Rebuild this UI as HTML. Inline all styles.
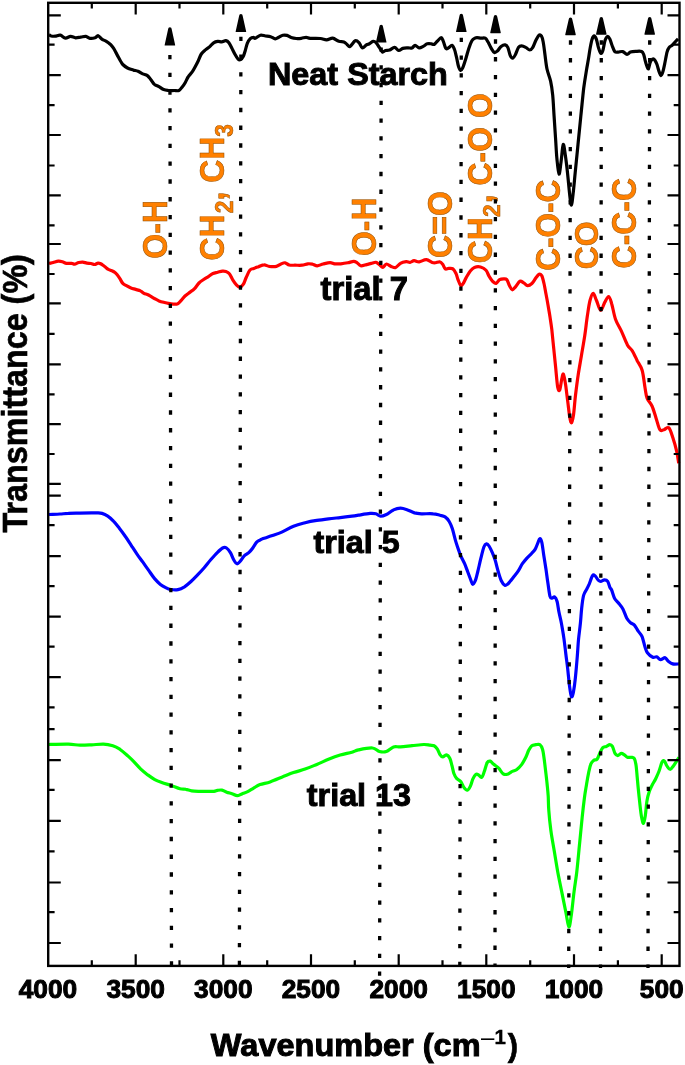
<!DOCTYPE html><html><head><meta charset="utf-8"><style>html,body{margin:0;padding:0;background:#fff;}svg{display:block;}text{font-family:"Liberation Sans",Arial,sans-serif;font-weight:bold;}</style></head><body>
<svg width="685" height="1065" viewBox="0 0 685 1065">
<rect x="0" y="0" width="685" height="1065" fill="#fff"/>
<path d="M49.0 34.7C49.4 34.9 50.1 35.8 51.1 36.0C52.1 36.2 53.7 36.3 55.2 36.2C56.7 36.1 58.6 34.9 60.3 35.2C62.0 35.5 63.7 37.9 65.4 38.1C67.1 38.3 68.8 36.5 70.5 36.4C72.2 36.3 73.9 37.7 75.6 37.8C77.3 37.9 79.1 37.3 80.8 37.1C82.5 36.9 84.4 36.2 85.9 36.4C87.4 36.6 88.4 38.1 89.9 38.3C91.4 38.5 93.7 38.2 95.1 37.8C96.5 37.4 96.9 35.5 98.1 35.7C99.3 36.0 100.8 38.4 102.2 39.3C103.6 40.2 105.0 40.5 106.3 41.3C107.6 42.1 109.0 43.1 110.2 44.2C111.4 45.4 112.4 46.5 113.5 48.2C114.6 49.9 115.8 52.5 117.0 54.6C118.2 56.7 119.5 59.4 120.5 61.0C121.5 62.6 121.6 63.3 122.8 64.5C124.0 65.7 125.7 67.1 127.5 68.0C129.3 68.9 131.7 69.5 133.4 70.1C135.2 70.6 136.4 70.7 138.0 71.3C139.6 71.9 141.1 73.2 142.7 73.9C144.3 74.6 146.0 74.6 147.4 75.6C148.8 76.6 149.7 78.2 150.9 79.7C152.1 81.2 153.1 83.2 154.4 84.4C155.8 85.6 157.4 85.8 159.0 86.7C160.6 87.6 162.1 89.0 163.7 89.6C165.3 90.2 166.7 90.3 168.4 90.5C170.2 90.7 172.4 90.5 174.2 90.5C175.9 90.5 177.5 91.1 178.9 90.5C180.3 89.9 181.3 88.0 182.4 86.7C183.5 85.4 184.4 84.1 185.3 82.5C186.2 80.9 186.9 78.8 188.1 77.0C189.2 75.2 191.0 73.6 192.2 71.9C193.4 70.2 194.2 68.7 195.2 66.8C196.2 64.9 197.3 62.8 198.3 60.7C199.3 58.6 200.1 55.8 201.3 54.0C202.5 52.2 204.0 51.1 205.4 49.9C206.8 48.7 208.1 48.1 209.5 46.9C210.9 45.7 212.2 43.7 213.6 42.8C215.0 41.9 216.3 41.6 217.7 41.4C219.1 41.2 220.4 41.9 221.8 41.8C223.2 41.7 224.7 40.5 225.9 40.7C227.1 40.9 227.9 41.5 228.9 42.8C229.9 44.1 231.0 46.4 232.0 48.4C233.0 50.4 234.1 52.7 235.1 54.5C236.1 56.3 237.2 58.2 238.1 59.1C239.0 60.0 239.8 60.0 240.7 59.6C241.5 59.2 242.4 58.1 243.2 56.6C244.0 55.1 244.6 52.6 245.3 50.4C246.0 48.2 246.5 45.3 247.3 43.3C248.1 41.3 249.3 39.6 250.3 38.6C251.3 37.6 252.5 37.3 253.3 37.3C254.1 37.2 254.1 38.6 255.3 38.3C256.5 37.9 258.7 35.6 260.4 35.2C262.1 34.8 263.8 35.8 265.5 36.0C267.2 36.2 269.0 36.2 270.6 36.7C272.2 37.2 273.8 38.7 275.2 38.8C276.6 38.9 277.5 37.9 278.8 37.3C280.1 36.7 281.5 35.5 282.9 35.2C284.3 34.9 285.6 35.0 287.0 35.4C288.4 35.8 289.6 37.0 291.1 37.5C292.6 38.0 294.5 38.4 296.2 38.5C297.9 38.6 299.6 38.5 301.3 38.3C303.0 38.1 304.6 37.3 306.1 37.3C307.6 37.3 307.8 38.1 310.2 38.3C312.6 38.5 317.7 38.2 320.4 38.5C323.1 38.8 324.6 39.9 326.6 39.8C328.7 39.7 330.7 37.9 332.7 38.1C334.7 38.4 336.9 40.7 338.8 41.3C340.7 41.9 342.5 41.4 343.9 41.9C345.3 42.4 346.0 43.6 347.0 44.4C348.0 45.2 348.6 47.1 350.0 46.5C351.4 45.9 353.7 41.4 355.2 40.8C356.7 40.2 358.0 41.7 359.2 42.9C360.4 44.1 361.1 47.7 362.3 48.0C363.5 48.3 365.3 45.6 366.4 44.9C367.5 44.2 367.9 44.6 369.0 44.0C370.1 43.4 372.0 41.5 373.2 41.3C374.4 41.1 375.2 41.8 376.2 42.8C377.2 43.8 378.3 45.9 379.3 47.4C380.3 48.9 381.4 51.5 382.4 52.0C383.4 52.5 384.2 50.8 385.4 50.5C386.6 50.2 388.0 50.5 389.5 50.0C391.0 49.5 393.1 47.3 394.6 47.4C396.1 47.5 397.3 50.3 398.7 50.5C400.1 50.7 401.3 48.8 402.8 48.4C404.3 48.0 406.4 48.0 407.9 47.9C409.4 47.8 410.8 48.3 412.0 47.9C413.2 47.5 413.9 45.4 415.1 45.4C416.3 45.4 417.9 47.7 419.2 47.9C420.5 48.1 421.8 47.1 423.2 46.4C424.6 45.7 425.9 44.2 427.3 43.8C428.7 43.4 430.3 43.7 431.4 43.8C432.5 43.9 433.1 44.8 434.1 44.4C435.1 44.0 436.0 42.4 437.2 41.3C438.4 40.2 440.2 37.7 441.2 37.7C442.2 37.7 442.5 39.5 443.3 41.3C444.1 43.1 445.0 47.3 445.8 48.4C446.6 49.5 447.4 48.4 448.4 47.9C449.4 47.4 451.0 45.1 452.0 45.4C453.0 45.7 453.7 47.5 454.5 49.5C455.3 51.5 455.9 54.7 456.6 57.6C457.3 60.5 457.9 64.7 458.6 66.8C459.3 68.9 460.0 70.2 460.7 70.4C461.4 70.6 461.8 69.9 462.7 67.9C463.6 66.0 464.8 62.0 465.8 58.7C466.8 55.5 467.8 51.4 468.8 48.4C469.8 45.4 470.9 42.5 471.9 40.8C472.9 39.1 474.1 38.7 475.0 38.2C475.9 37.7 476.0 37.7 477.0 37.7C478.0 37.7 479.7 38.1 481.1 38.2C482.5 38.3 484.0 37.5 485.2 38.2C486.4 38.9 487.2 40.6 488.2 42.3C489.2 44.0 490.3 46.7 491.3 48.4C492.3 50.1 493.4 52.1 494.4 52.5C495.4 52.9 496.3 52.0 497.4 51.0C498.5 50.0 499.8 47.4 501.1 46.4C502.4 45.4 504.1 44.7 505.2 44.9C506.3 45.1 506.9 45.6 507.8 47.4C508.7 49.2 509.5 53.8 510.3 55.6C511.1 57.4 512.0 58.3 512.9 58.1C513.8 57.9 514.5 56.4 515.4 54.6C516.3 52.8 517.5 48.9 518.5 47.4C519.5 45.9 520.4 45.9 521.6 45.9C522.8 45.9 524.4 46.7 525.7 47.4C527.1 48.1 528.5 50.0 529.7 50.0C530.9 50.0 531.8 49.0 532.8 47.4C533.8 45.8 534.9 42.3 535.9 40.3C536.9 38.3 538.0 35.9 538.9 35.2C539.8 34.5 540.8 35.1 541.5 36.2C542.2 37.3 542.6 38.9 543.2 42.0C543.8 45.1 544.4 50.5 545.0 55.0C545.6 59.5 546.1 64.7 547.0 69.0C547.9 73.3 549.6 76.7 550.6 81.1C551.6 85.5 552.1 89.3 552.7 95.2C553.3 101.1 553.6 109.2 554.1 116.3C554.6 123.3 555.0 130.4 555.5 137.5C556.0 144.6 556.3 152.5 556.9 158.6C557.5 164.7 558.3 173.6 559.0 174.1C559.7 174.6 560.4 166.3 561.1 161.4C561.8 156.5 562.5 145.4 563.2 144.5C563.9 143.6 564.7 151.1 565.4 155.8C566.1 160.5 566.8 166.4 567.5 172.7C568.2 179.0 569.0 188.4 569.6 193.8C570.2 199.2 570.7 205.1 571.3 205.1C571.9 205.1 572.5 199.2 573.1 193.8C573.8 188.4 574.4 180.9 575.2 172.7C576.0 164.5 577.1 153.9 578.0 144.5C578.9 135.1 579.8 125.7 580.8 116.3C581.8 106.9 582.8 95.9 583.7 88.2C584.7 80.5 585.7 74.9 586.5 70.0C587.3 65.1 587.9 62.4 588.5 58.6C589.1 54.8 589.7 50.5 590.3 47.3C590.9 44.1 591.4 41.3 592.0 39.4C592.6 37.5 593.5 35.9 594.2 35.9C594.9 35.9 595.7 37.4 596.4 39.4C597.1 41.4 597.9 45.8 598.6 48.1C599.3 50.4 600.1 53.1 600.8 53.4C601.5 53.7 602.3 52.1 603.0 49.9C603.7 47.7 604.3 42.6 605.1 40.3C605.9 38.0 607.0 36.4 607.8 36.3C608.6 36.1 609.3 37.9 610.0 39.4C610.7 40.9 611.3 43.5 612.1 45.5C612.9 47.5 613.8 50.5 614.8 51.6C615.8 52.7 617.0 52.1 618.3 52.1C619.6 52.1 621.2 51.2 622.7 51.6C624.2 52.0 625.7 54.2 627.0 54.3C628.3 54.4 629.0 52.6 630.5 52.1C632.0 51.6 633.9 51.5 635.8 51.4C637.6 51.3 640.3 50.9 641.6 51.5C642.9 52.1 643.2 53.3 643.8 54.8C644.4 56.3 644.7 58.8 645.2 60.7C645.7 62.7 646.5 65.2 647.0 66.5C647.5 67.8 648.0 69.4 648.5 68.7C649.0 68.0 649.6 63.7 650.3 62.1C651.0 60.5 651.8 59.6 652.5 59.2C653.2 58.8 654.0 59.0 654.7 59.9C655.4 60.8 656.2 62.3 656.9 64.3C657.6 66.2 658.4 69.7 659.1 71.6C659.8 73.5 660.3 75.5 660.9 75.6C661.5 75.7 662.0 74.4 662.7 72.3C663.4 70.2 664.2 66.2 664.9 62.8C665.6 59.4 666.4 54.5 667.1 51.9C667.8 49.3 668.4 48.3 669.3 47.2C670.1 46.1 671.2 46.2 672.2 45.3C673.2 44.4 674.1 43.1 675.1 42.0C676.1 40.9 677.6 39.3 678.1 38.8" fill="none" stroke="#000" stroke-width="3.2" stroke-linejoin="round" stroke-linecap="butt"/>
<path d="M49.0 263.5C49.7 263.3 51.7 262.9 53.2 262.5C54.8 262.1 56.8 261.3 58.3 261.2C59.8 261.1 61.0 261.4 62.4 261.8C63.8 262.2 65.0 263.1 66.5 263.3C68.0 263.6 70.2 263.2 71.6 263.3C72.9 263.4 73.4 264.2 74.6 264.1C75.8 264.0 77.3 262.8 78.7 262.5C80.1 262.2 81.4 262.0 82.8 262.1C84.2 262.2 85.5 262.9 86.9 263.1C88.3 263.3 89.7 263.3 91.0 263.5C92.3 263.7 93.4 264.6 94.6 264.5C95.8 264.4 97.1 263.2 98.1 263.1C99.1 263.0 99.7 263.3 100.7 263.8C101.7 264.3 103.0 265.4 104.3 266.3C105.6 267.2 107.1 268.6 108.4 269.4C109.8 270.2 111.3 270.5 112.4 271.0C113.5 271.5 114.2 271.9 115.0 272.5C115.8 273.1 116.2 273.6 117.0 274.6C117.8 275.6 118.9 277.2 119.9 278.7C120.9 280.2 121.7 282.2 122.8 283.4C123.9 284.6 125.0 284.9 126.4 285.7C127.8 286.5 129.4 287.4 131.0 288.0C132.6 288.6 134.1 288.9 135.7 289.4C137.3 289.9 139.0 290.2 140.4 290.9C141.8 291.5 142.6 292.6 143.9 293.3C145.2 294.0 146.8 294.1 148.5 295.0C150.2 295.9 152.7 297.5 154.4 298.5C156.2 299.5 157.4 300.3 159.0 300.9C160.6 301.5 162.1 301.9 163.7 302.3C165.3 302.7 166.8 303.1 168.4 303.4C170.0 303.7 171.6 304.0 173.1 304.1C174.6 304.2 176.3 304.4 177.7 303.8C179.0 303.2 180.0 301.6 181.2 300.3C182.4 299.0 183.6 297.3 185.0 296.0C186.4 294.7 188.1 293.6 189.7 292.4C191.2 291.2 192.8 290.5 194.3 288.9C195.9 287.3 197.4 284.6 199.0 283.0C200.6 281.4 202.1 280.6 203.7 279.5C205.3 278.4 206.8 277.6 208.4 276.6C210.0 275.6 211.4 274.2 213.0 273.5C214.6 272.8 216.1 272.7 217.7 272.3C219.3 271.9 221.0 271.2 222.4 271.1C223.8 271.0 224.7 271.0 225.9 271.4C227.1 271.8 228.2 272.2 229.4 273.7C230.6 275.1 231.7 278.2 232.9 280.1C234.1 282.0 235.2 283.6 236.4 284.8C237.6 286.0 238.7 287.2 239.9 287.1C241.1 287.0 242.3 285.9 243.4 284.2C244.5 282.5 245.2 279.5 246.3 277.2C247.4 274.9 248.5 271.7 249.8 270.2C251.1 268.7 252.4 269.0 253.9 268.4C255.4 267.8 256.9 267.3 258.6 266.7C260.3 266.1 262.3 264.9 264.1 264.9C265.9 264.8 267.2 266.1 269.3 266.4C271.4 266.6 274.4 266.8 276.4 266.4C278.3 266.0 279.6 264.6 281.0 264.0C282.4 263.4 283.7 262.6 285.1 262.8C286.5 263.0 287.6 264.6 289.2 265.0C290.8 265.4 292.9 265.2 295.0 265.2C297.1 265.2 299.9 265.4 302.0 265.2C304.1 265.0 306.1 264.0 307.9 263.8C309.7 263.6 311.1 263.9 312.6 264.2C314.2 264.5 315.4 265.8 317.2 265.8C318.9 265.8 321.0 264.5 323.1 264.0C325.2 263.5 328.2 262.6 330.1 262.6C332.0 262.6 332.9 263.6 334.7 263.8C336.5 264.0 338.6 264.0 340.8 263.8C343.0 263.6 345.7 263.2 347.8 262.8C349.9 262.4 352.1 261.4 353.7 261.4C355.3 261.4 356.0 262.1 357.2 262.8C358.4 263.5 359.1 265.5 360.7 265.8C362.2 266.1 364.8 265.0 366.5 264.6C368.2 264.2 369.6 263.8 371.2 263.4C372.8 263.0 374.5 262.1 375.9 262.3C377.3 262.5 378.2 263.8 379.4 264.6C380.6 265.4 381.7 267.4 382.9 267.3C384.1 267.2 385.0 264.1 386.4 264.0C387.8 263.9 389.6 265.8 391.1 266.4C392.7 267.0 394.1 268.0 395.7 267.5C397.2 267.0 398.6 264.4 400.4 263.4C402.1 262.4 404.6 261.9 406.2 261.7C407.8 261.5 408.7 262.5 410.0 262.3C411.3 262.1 412.6 260.8 414.1 260.7C415.6 260.6 417.1 262.0 419.2 261.8C421.2 261.6 424.0 259.5 426.4 259.7C428.8 259.9 431.3 262.4 433.5 262.8C435.7 263.2 438.1 261.6 439.6 261.8C441.1 262.1 441.8 263.1 442.7 264.3C443.6 265.5 444.3 268.2 445.3 268.9C446.3 269.6 447.5 268.4 448.8 268.4C450.1 268.4 451.7 268.0 452.9 268.9C454.1 269.8 455.1 271.7 456.0 273.5C456.9 275.3 457.2 277.6 458.0 279.6C458.8 281.6 459.8 284.6 460.6 285.3C461.5 286.0 462.2 285.0 463.1 283.7C464.0 282.4 465.0 279.7 466.2 277.6C467.4 275.5 468.9 272.6 470.3 270.9C471.7 269.2 472.7 268.0 474.4 267.4C476.1 266.8 478.6 266.5 480.5 267.0C482.4 267.5 484.6 268.7 486.0 270.3C487.4 271.9 488.0 274.5 489.2 276.4C490.4 278.3 491.9 280.7 493.1 281.8C494.3 282.9 495.3 283.6 496.4 283.2C497.5 282.8 498.4 280.3 499.6 279.6C500.8 278.9 502.3 278.9 503.5 278.9C504.7 278.9 505.8 278.5 506.8 279.6C507.8 280.7 508.6 284.0 509.5 285.7C510.4 287.4 511.2 289.6 512.2 289.8C513.2 290.0 514.2 288.2 515.5 286.8C516.8 285.4 518.5 282.0 519.9 281.3C521.3 280.6 522.4 282.2 523.7 282.9C525.0 283.6 526.2 285.6 527.6 285.7C529.0 285.8 530.5 284.8 531.9 283.5C533.3 282.2 534.6 279.6 535.8 278.0C537.0 276.4 538.1 274.6 539.1 274.2C540.1 273.8 541.0 274.2 541.8 275.8C542.6 277.4 543.3 280.5 544.0 283.5C544.7 286.5 545.3 290.4 546.0 294.0C546.7 297.6 547.4 301.3 548.0 305.0C548.6 308.7 549.3 312.2 549.9 316.3C550.5 320.4 551.1 323.9 551.8 329.4C552.4 334.9 553.1 342.6 553.8 349.2C554.5 355.8 555.1 362.5 555.8 368.9C556.4 375.2 557.1 383.8 557.7 387.3C558.4 390.8 559.0 391.2 559.7 389.9C560.4 388.6 561.1 382.0 561.7 379.4C562.3 376.8 562.8 373.2 563.4 374.1C564.0 375.0 564.9 380.3 565.6 384.7C566.3 389.1 566.9 395.1 567.6 400.4C568.3 405.6 569.0 412.5 569.6 416.2C570.2 419.9 570.9 423.0 571.5 422.8C572.1 422.6 572.8 419.5 573.5 414.9C574.2 410.3 574.7 401.8 575.5 395.2C576.3 388.6 577.1 382.0 578.1 375.4C579.1 368.8 580.3 362.3 581.4 355.7C582.5 349.1 583.7 342.6 584.7 336.0C585.7 329.4 586.4 322.2 587.3 316.3C588.2 310.4 589.0 304.3 590.0 300.5C591.0 296.7 592.1 293.3 593.2 293.3C594.3 293.3 595.2 297.7 596.5 300.5C597.8 303.3 599.3 310.0 600.7 310.3C602.1 310.6 603.4 304.7 604.7 302.4C606.0 300.1 607.5 296.3 608.6 296.5C609.8 296.7 610.5 299.6 611.6 303.4C612.8 307.2 613.9 314.6 615.5 319.2C617.1 323.8 619.4 326.8 621.4 331.1C623.4 335.4 625.6 341.6 627.4 344.9C629.2 348.2 630.7 348.2 632.3 350.8C633.9 353.4 635.6 357.4 637.2 360.7C638.9 364.0 640.9 365.9 642.2 370.5C643.5 375.1 644.3 383.7 645.1 388.3C645.9 392.9 646.0 395.2 647.1 398.2C648.2 401.1 650.5 402.7 652.0 406.0C653.5 409.3 654.7 413.9 656.0 417.9C657.3 421.8 658.6 427.7 659.9 429.7C661.2 431.7 662.4 430.0 663.9 429.7C665.4 429.4 667.3 426.5 668.8 427.8C670.3 429.1 671.5 433.7 672.8 437.6C674.1 441.5 675.7 447.1 676.7 451.4C677.7 455.7 678.4 461.3 678.7 463.3" fill="none" stroke="#f00" stroke-width="3.2" stroke-linejoin="round" stroke-linecap="butt"/>
<path d="M49.0 514.5C50.8 514.4 56.8 514.2 60.0 514.0C63.2 513.8 65.1 513.5 68.4 513.4C71.7 513.2 76.1 513.2 80.0 513.1C83.9 513.0 88.9 512.9 91.7 512.9C94.5 512.9 95.3 512.8 97.0 512.9C98.7 513.0 100.2 512.9 102.0 513.4C103.8 513.9 105.8 514.8 107.8 516.1C109.8 517.4 111.8 519.4 113.7 521.4C115.7 523.4 117.5 525.9 119.5 528.4C121.5 530.9 123.5 533.7 125.4 536.5C127.4 539.3 129.3 542.4 131.2 545.3C133.1 548.2 135.1 551.3 137.0 554.1C138.9 556.9 141.0 559.5 142.9 562.2C144.8 564.9 146.8 567.7 148.7 570.4C150.6 573.1 152.6 576.3 154.6 578.6C156.6 580.9 158.5 582.9 160.4 584.4C162.3 585.9 164.4 587.0 166.2 587.9C167.9 588.8 168.9 589.2 170.9 589.5C172.9 589.8 175.6 590.1 177.9 589.6C180.2 589.1 182.3 588.1 184.5 586.8C186.7 585.4 188.8 583.5 191.0 581.5C193.2 579.5 195.4 577.2 197.6 574.9C199.8 572.6 202.0 570.2 204.2 567.7C206.4 565.2 208.5 562.3 210.7 559.8C212.9 557.3 215.3 554.6 217.3 552.6C219.3 550.6 221.1 548.8 222.6 548.0C224.1 547.2 225.2 547.2 226.5 548.0C227.8 548.8 229.2 550.6 230.4 552.6C231.6 554.6 232.6 557.9 233.7 559.8C234.8 561.7 235.9 563.6 237.0 563.8C238.1 564.0 239.1 562.4 240.3 561.1C241.5 559.8 242.8 557.3 244.2 555.9C245.6 554.5 247.4 553.9 248.8 552.6C250.2 551.3 251.5 549.8 252.8 548.0C254.1 546.2 255.5 543.4 256.7 542.1C257.9 540.8 258.9 540.7 260.0 540.1C261.1 539.5 261.0 539.4 263.1 538.6C265.2 537.9 269.3 536.7 272.4 535.6C275.5 534.5 278.3 533.7 281.8 532.1C285.3 530.5 289.6 527.8 293.5 526.2C297.4 524.6 301.2 523.7 305.1 522.7C309.0 521.7 312.9 521.0 316.8 520.4C320.7 519.8 324.6 519.3 328.5 518.8C332.4 518.3 336.3 518.0 340.2 517.6C344.1 517.2 348.9 516.6 351.9 516.2C354.9 515.8 355.4 515.7 358.4 515.2C361.4 514.7 367.2 513.6 370.1 513.4C373.0 513.2 374.1 513.3 375.9 513.8C377.6 514.3 378.9 516.1 380.6 516.2C382.4 516.3 384.2 515.5 386.4 514.5C388.5 513.5 391.1 510.9 393.5 509.9C395.9 508.8 398.2 508.2 400.5 508.2C402.8 508.2 405.2 509.1 407.5 509.9C409.8 510.7 412.2 512.2 414.5 512.9C416.8 513.5 418.4 513.6 421.5 513.8C424.6 513.9 430.1 513.5 433.2 513.8C436.3 514.0 438.0 514.8 440.0 515.3C442.0 515.8 443.6 515.9 445.1 516.9C446.6 517.9 448.0 519.5 449.2 521.5C450.4 523.5 451.3 525.5 452.3 528.6C453.3 531.7 454.4 536.7 455.3 539.9C456.2 543.1 457.0 545.3 457.9 548.0C458.8 550.7 459.8 553.6 460.9 556.2C462.0 558.8 463.4 560.9 464.5 563.4C465.6 565.9 466.6 568.8 467.6 571.5C468.6 574.2 469.9 577.6 470.7 579.7C471.5 581.8 471.9 584.1 472.7 584.3C473.5 584.5 474.4 582.8 475.3 580.7C476.2 578.6 476.9 575.2 477.8 571.5C478.7 567.8 479.9 562.3 480.9 558.2C481.9 554.1 483.0 549.4 483.9 547.0C484.8 544.6 485.6 544.1 486.5 543.9C487.4 543.7 488.1 544.6 489.0 546.0C489.9 547.4 491.1 549.7 492.1 552.1C493.1 554.5 494.2 557.1 495.2 560.3C496.2 563.5 497.2 568.1 498.2 571.5C499.2 574.9 500.2 578.4 501.3 580.7C502.4 583.0 503.8 584.8 504.9 585.3C506.0 585.8 507.1 584.4 508.0 583.8C508.9 583.2 509.1 582.5 510.0 581.5C510.9 580.5 511.8 579.3 513.2 577.5C514.6 575.7 516.8 573.2 518.3 570.9C519.8 568.6 521.0 565.8 522.4 563.7C523.8 561.7 525.0 560.3 526.5 558.6C528.0 556.9 530.2 555.0 531.6 553.5C533.0 552.0 534.1 551.1 535.1 549.4C536.1 547.7 536.9 545.1 537.7 543.3C538.5 541.5 539.0 538.9 539.7 538.7C540.4 538.5 541.1 539.5 541.8 542.3C542.5 545.1 543.1 551.1 543.8 555.5C544.5 559.9 545.2 564.2 545.9 568.8C546.6 573.4 547.2 578.5 547.9 583.1C548.6 587.7 549.3 593.9 550.0 596.4C550.7 598.9 551.2 598.1 552.0 598.2C552.8 598.3 553.8 596.4 554.6 596.9C555.5 597.4 556.4 599.0 557.1 601.5C557.8 604.0 558.2 608.2 558.9 611.8C559.6 615.4 560.6 618.8 561.4 623.2C562.2 627.6 563.2 633.3 563.9 638.4C564.6 643.5 565.2 648.6 565.8 653.7C566.4 658.8 567.1 663.4 567.7 668.9C568.3 674.4 569.0 682.0 569.6 686.6C570.2 691.2 570.9 695.9 571.5 696.8C572.1 697.6 572.9 694.9 573.5 691.7C574.1 688.5 574.8 683.6 575.4 677.7C576.0 671.8 576.8 662.5 577.3 656.2C577.8 649.9 578.0 645.2 578.5 639.7C579.0 634.2 579.9 628.5 580.4 623.2C580.9 617.9 581.2 612.6 581.7 608.0C582.2 603.4 582.8 598.6 583.6 595.4C584.5 592.2 585.8 590.9 586.8 589.0C587.8 587.1 588.3 586.1 589.3 583.9C590.2 581.7 591.5 577.1 592.5 575.7C593.5 574.3 594.0 575.0 595.0 575.7C596.0 576.4 597.2 579.2 598.2 580.1C599.2 581.0 599.7 581.4 600.7 581.4C601.8 581.4 603.3 579.9 604.5 579.9C605.7 579.9 606.8 580.1 607.7 581.4C608.6 582.7 609.4 586.3 610.0 587.7C610.6 589.1 610.9 588.2 611.6 590.0C612.4 591.8 613.4 596.1 614.5 598.2C615.6 600.3 616.9 601.0 618.3 602.8C619.7 604.6 621.5 606.4 622.9 609.0C624.3 611.6 625.5 615.9 626.8 618.2C628.1 620.5 629.3 621.6 630.6 622.8C631.9 623.9 633.1 623.7 634.4 625.1C635.7 626.5 636.9 629.3 638.2 631.2C639.5 633.1 641.0 633.9 642.1 636.6C643.2 639.3 644.2 644.6 645.1 647.3C646.0 650.0 646.1 651.0 647.4 652.7C648.7 654.4 651.3 656.6 652.8 657.3C654.3 658.0 655.3 656.4 656.6 656.8C657.9 657.2 659.1 659.5 660.5 659.6C661.9 659.8 663.8 657.5 665.1 657.7C666.4 658.0 666.8 660.1 668.1 661.1C669.4 662.1 670.9 663.4 672.7 663.9C674.5 664.4 677.9 663.9 678.9 663.9" fill="none" stroke="#00f" stroke-width="3.2" stroke-linejoin="round" stroke-linecap="butt"/>
<path d="M49.0 744.5C52.2 744.4 63.2 744.0 68.4 744.1C73.6 744.2 76.1 745.1 80.0 745.2C83.9 745.3 87.8 745.0 91.7 744.8C95.6 744.6 99.9 744.0 103.4 744.1C106.9 744.2 110.1 744.9 112.8 745.7C115.5 746.6 117.5 747.7 119.8 749.2C122.1 750.8 124.5 752.9 126.8 755.0C129.1 757.1 131.5 759.2 133.8 761.6C136.1 764.0 138.5 766.9 140.8 769.1C143.1 771.3 145.5 773.1 147.8 774.9C150.1 776.6 152.5 778.3 154.8 779.6C157.1 780.9 159.1 781.6 161.8 782.6C164.5 783.6 168.2 784.4 171.2 785.4C174.2 786.4 177.6 788.1 180.0 788.7C182.4 789.4 183.9 788.9 185.8 789.3C187.8 789.6 189.5 790.5 191.7 790.8C193.8 791.1 196.4 791.2 198.7 791.3C201.0 791.4 203.2 791.4 205.7 791.4C208.2 791.4 211.9 791.5 213.9 791.3C215.9 791.1 216.1 790.6 217.4 790.4C218.8 790.2 220.4 789.8 222.0 790.1C223.6 790.4 224.9 791.6 226.7 792.2C228.5 792.8 230.8 793.3 232.6 793.9C234.3 794.5 235.6 795.7 237.2 795.7C238.8 795.7 240.2 794.6 241.9 793.9C243.7 793.2 245.8 792.6 247.7 791.6C249.6 790.6 251.5 789.3 253.6 788.1C255.7 786.9 257.2 785.6 260.0 784.6C262.8 783.6 266.5 783.1 270.1 781.9C273.7 780.7 277.9 778.8 281.8 777.2C285.7 775.7 289.6 774.0 293.5 772.6C297.4 771.2 301.2 770.5 305.1 769.1C309.0 767.7 312.9 766.0 316.8 764.4C320.7 762.8 324.6 760.9 328.5 759.3C332.4 757.7 336.3 756.2 340.2 755.0C344.1 753.8 348.9 753.1 351.9 752.2C354.9 751.4 355.0 750.6 358.4 749.9C361.8 749.2 368.9 747.7 372.4 748.0C375.9 748.3 377.1 750.9 379.4 751.5C381.7 752.1 384.0 752.3 386.4 751.5C388.8 750.7 391.1 747.7 393.5 746.9C395.9 746.1 397.4 747.1 400.5 746.9C403.6 746.7 408.2 746.1 412.1 745.7C416.0 745.3 420.8 744.6 423.8 744.5C426.8 744.4 428.3 745.0 430.0 745.2C431.7 745.4 432.9 745.1 434.1 745.7C435.3 746.3 436.2 747.3 437.2 748.8C438.2 750.3 439.3 753.5 440.2 754.9C441.1 756.3 441.8 757.0 442.8 757.0C443.8 757.0 445.2 754.6 446.4 754.9C447.6 755.1 449.0 756.7 449.9 758.5C450.8 760.3 451.3 763.2 452.0 765.7C452.7 768.2 453.2 771.7 454.0 773.8C454.8 775.9 455.5 777.1 456.6 778.4C457.7 779.7 459.5 780.0 460.7 781.5C461.9 783.0 462.6 785.6 463.7 787.1C464.8 788.6 466.2 790.4 467.3 790.2C468.4 790.0 469.5 788.0 470.4 786.1C471.3 784.2 472.0 780.9 472.9 778.9C473.8 776.9 475.1 775.0 476.0 774.3C476.9 773.6 477.6 774.4 478.5 774.9C479.4 775.4 480.7 777.9 481.6 777.4C482.6 776.9 483.3 774.3 484.2 771.8C485.1 769.3 486.2 764.4 487.2 762.6C488.2 760.8 489.3 760.9 490.3 761.1C491.3 761.4 492.3 763.2 493.4 764.1C494.5 765.0 495.9 765.9 496.9 766.7C497.8 767.5 498.1 767.5 499.1 768.7C500.2 769.9 501.8 772.9 503.2 773.8C504.6 774.7 505.9 774.6 507.3 774.3C508.7 774.0 509.9 772.6 511.4 771.8C512.9 771.0 514.8 770.9 516.5 769.7C518.2 768.5 520.1 766.6 521.6 764.6C523.1 762.6 524.5 759.9 525.7 757.5C526.9 755.1 527.7 752.3 528.7 750.3C529.7 748.3 530.6 746.6 531.8 745.7C533.0 744.8 534.5 744.9 535.9 744.7C537.3 744.5 538.9 743.9 540.0 744.7C541.1 745.5 541.8 747.0 542.5 749.3C543.2 751.6 543.6 754.9 544.1 758.5C544.6 762.1 545.1 766.5 545.6 770.8C546.1 775.0 546.7 779.8 547.1 784.0C547.5 788.2 547.9 791.6 548.2 796.0C548.5 800.4 548.3 804.6 548.8 810.4C549.2 816.2 550.0 824.0 550.9 830.8C551.8 837.6 553.2 844.5 554.3 851.3C555.4 858.1 556.5 864.9 557.7 871.7C559.0 878.5 560.4 885.3 561.8 892.1C563.2 898.9 564.7 906.7 565.9 912.5C567.1 918.3 568.0 926.3 568.9 926.8C569.8 927.3 570.4 921.1 571.3 915.3C572.1 909.5 573.1 899.4 574.0 892.1C574.9 884.8 575.9 879.6 576.8 871.7C577.7 863.8 578.6 853.6 579.5 844.5C580.4 835.4 581.4 825.0 582.2 817.2C583.0 809.5 583.7 803.5 584.4 798.0C585.1 792.5 585.9 788.4 586.6 784.0C587.3 779.6 588.1 775.1 588.8 771.8C589.5 768.4 590.1 765.8 590.9 763.9C591.7 762.0 592.6 761.2 593.6 760.4C594.6 759.6 596.0 760.4 597.1 759.1C598.2 757.8 599.2 754.4 600.1 752.5C601.0 750.6 601.8 748.7 602.8 747.7C603.8 746.7 605.1 746.9 606.3 746.4C607.5 745.9 608.8 744.6 609.8 744.6C610.8 744.6 611.5 744.9 612.4 746.4C613.3 747.9 614.1 751.9 615.0 753.4C615.9 754.9 616.7 755.6 617.7 755.6C618.7 755.6 620.0 753.5 621.2 753.4C622.4 753.3 623.7 754.5 624.7 755.1C625.7 755.8 626.1 756.9 627.3 757.3C628.5 757.7 630.5 757.1 631.7 757.3C632.9 757.5 633.6 757.3 634.3 758.6C635.0 759.9 635.5 761.9 636.0 765.0C636.5 768.1 636.8 772.9 637.2 777.1C637.6 781.3 637.9 785.3 638.4 790.0C638.9 794.7 639.5 800.7 640.0 805.2C640.5 809.8 641.0 814.3 641.6 817.3C642.2 820.3 642.9 823.6 643.5 823.3C644.1 823.0 644.7 819.4 645.3 815.7C645.9 812.0 646.2 805.2 646.9 801.2C647.6 797.2 648.4 794.3 649.3 791.6C650.2 788.9 651.0 787.4 652.1 785.2C653.2 783.1 654.6 781.0 655.7 778.7C656.8 776.4 657.8 774.3 658.9 771.5C660.0 768.7 661.2 763.6 662.1 761.9C663.0 760.2 663.7 760.4 664.5 761.1C665.3 761.8 665.9 764.5 666.9 765.9C667.9 767.3 669.1 769.5 670.2 769.5C671.3 769.5 672.3 767.3 673.4 765.9C674.5 764.5 675.7 762.5 676.6 761.1C677.5 759.7 678.6 758.0 679.0 757.4" fill="none" stroke="#00ff00" stroke-width="3.2" stroke-linejoin="round" stroke-linecap="butt"/>
<path d="M48.2 15.3H60.8M679.5 15.3H667.5M48.2 75.1H60.8M679.5 75.1H667.5M48.2 135H60.8M679.5 135H667.5M48.2 195.3H60.8M679.5 195.3H667.5M48.2 244H60.8M679.5 244H667.5M48.2 303.3H60.8M679.5 303.3H667.5M48.2 364.3H60.8M679.5 364.3H667.5M48.2 424.2H60.8M679.5 424.2H667.5M48.2 483.8H60.8M679.5 483.8H667.5M48.2 495.6H60.8M679.5 495.6H667.5M48.2 556.2H60.8M679.5 556.2H667.5M48.2 616.7H60.8M679.5 616.7H667.5M48.2 677.1H60.8M679.5 677.1H667.5M48.2 760.2H60.8M679.5 760.2H667.5M48.2 820.8H60.8M679.5 820.8H667.5M48.2 882.5H60.8M679.5 882.5H667.5M48.2 943H60.8M679.5 943H667.5M48.2 44.6H54.6M679.5 44.6H673.7M48.2 105.2H54.6M679.5 105.2H673.7M48.2 165.5H54.6M679.5 165.5H673.7M48.2 225.4H54.6M679.5 225.4H673.7M48.2 274H54.6M679.5 274H673.7M48.2 333.8H54.6M679.5 333.8H673.7M48.2 394.4H54.6M679.5 394.4H673.7M48.2 454H54.6M679.5 454H673.7M48.2 525.2H54.6M679.5 525.2H673.7M48.2 586.2H54.6M679.5 586.2H673.7M48.2 646.6H54.6M679.5 646.6H673.7M48.2 707.4H54.6M679.5 707.4H673.7M48.2 729.2H54.6M679.5 729.2H673.7M48.2 789.8H54.6M679.5 789.8H673.7M48.2 851.3H54.6M679.5 851.3H673.7M48.2 912.2H54.6M679.5 912.2H673.7M91.8 2.8V8.6M91.8 965.9V960.3M135.7 2.8V14.4M135.7 965.9V954.3M179.5 2.8V8.6M179.5 965.9V960.3M223.3 2.8V14.4M223.3 965.9V954.3M267.2 2.8V8.6M267.2 965.9V960.3M311.0 2.8V14.4M311.0 965.9V954.3M354.8 2.8V8.6M354.8 965.9V960.3M398.7 2.8V14.4M398.7 965.9V954.3M442.5 2.8V8.6M442.5 965.9V960.3M486.3 2.8V14.4M486.3 965.9V954.3M530.2 2.8V8.6M530.2 965.9V960.3M574.0 2.8V14.4M574.0 965.9V954.3M617.9 2.8V8.6M617.9 965.9V960.3M661.7 2.8V14.4M661.7 965.9V954.3" stroke="#000" stroke-width="2.2" fill="none"/>
<rect x="48.2" y="2.8" width="631.3" height="963.1" fill="none" stroke="#000" stroke-width="2.4"/>
<text transform="translate(166.60,258.80) rotate(-90) scale(1,1.091)" font-size="32.11" fill="#ff8000" stroke="#8a4a00" stroke-width="0.46">O-H</text>
<text transform="translate(375.70,255.89) rotate(-90) scale(1,1.101)" font-size="31.82" fill="#ff8000" stroke="#8a4a00" stroke-width="0.45">O-H</text>
<text transform="translate(452.41,257.90) rotate(-90) scale(1,1.069)" font-size="32.10" fill="#ff8000" stroke="#8a4a00" stroke-width="0.47">C=O</text>
<text transform="translate(559.80,270.78) rotate(-90) scale(1,1.105)" font-size="31.58" fill="#ff8000" stroke="#8a4a00" stroke-width="0.45">C-O-C</text>
<text transform="translate(598.41,269.19) rotate(-90) scale(1,1.066)" font-size="31.92" fill="#ff8000" stroke="#8a4a00" stroke-width="0.47">CO</text>
<text transform="translate(636.41,268.39) rotate(-90) scale(1,1.075)" font-size="31.93" fill="#ff8000" stroke="#8a4a00" stroke-width="0.47">C-C-C</text>
<text transform="translate(224.10,260.49) rotate(-90) scale(1,1.106)" font-size="31.93" fill="#ff8000" stroke="#8a4a00" stroke-width="0.45">CH<tspan dx="1.2" dy="7.96" font-size="22.67">2</tspan><tspan dy="-7.96">, CH</tspan><tspan dy="7.96" font-size="22.67">3</tspan></text>
<text transform="translate(491.51,263.19) rotate(-90) scale(1,1.079)" font-size="31.93" fill="#ff8000" stroke="#8a4a00" stroke-width="0.46">CH<tspan dy="8.15" font-size="22.67">2</tspan><tspan dx="1.3" dy="-8.15">, C-O O</tspan></text>
<text transform="translate(267.96,84.89) scale(1.028,1)" font-size="31.50" fill="#000" stroke="#000" stroke-width="0.97">Neat Starch</text>
<text transform="translate(320.61,299.88) scale(1.007,1)" font-size="32.50" fill="#000" stroke="#000" stroke-width="0.99">trial 7</text>
<text transform="translate(313.61,553.39) scale(1.036,1)" font-size="31.10" fill="#000" stroke="#000" stroke-width="0.96">trial 5</text>
<text transform="translate(306.81,806.08) scale(1.017,1)" font-size="31.80" fill="#000" stroke="#000" stroke-width="0.98">trial 13</text>
<text x="48.0" y="998.1" font-size="26.3" text-anchor="middle" fill="#000" stroke="#000" stroke-width="1">4000</text>
<text x="135.7" y="998.1" font-size="26.3" text-anchor="middle" fill="#000" stroke="#000" stroke-width="1">3500</text>
<text x="223.3" y="998.1" font-size="26.3" text-anchor="middle" fill="#000" stroke="#000" stroke-width="1">3000</text>
<text x="311.0" y="998.1" font-size="26.3" text-anchor="middle" fill="#000" stroke="#000" stroke-width="1">2500</text>
<text x="398.7" y="998.1" font-size="26.3" text-anchor="middle" fill="#000" stroke="#000" stroke-width="1">2000</text>
<text x="486.3" y="998.1" font-size="26.3" text-anchor="middle" fill="#000" stroke="#000" stroke-width="1">1500</text>
<text x="574.0" y="998.1" font-size="26.3" text-anchor="middle" fill="#000" stroke="#000" stroke-width="1">1000</text>
<text x="661.7" y="998.1" font-size="26.3" text-anchor="middle" fill="#000" stroke="#000" stroke-width="1">500</text>
<text transform="translate(210.84,1056.0) scale(1.016,1)" font-size="32.0" fill="#000" stroke="#000" stroke-width="1">Wavenumber (cm</text>
<text x="481.0" y="1044.5" font-size="24" font-weight="normal" fill="#000" style="font-weight:normal">–</text>
<text x="494.40" y="1043.6" font-size="20.5" fill="#000" stroke="#000" stroke-width="0.4">1</text>
<text x="507.84" y="1056.0" font-size="31.0" fill="#000" stroke="#000" stroke-width="0.6">)</text>
<text transform="translate(26.5,532.59) rotate(-90) scale(1,1.11)" font-size="32.35" fill="#000" stroke="#000" stroke-width="0.6">Transmittance (%)</text>
<line x1="169.9" y1="54.95" x2="171.5" y2="966" stroke="#000" stroke-width="3.3" stroke-dasharray="4.3 13.47"/>
<path d="M168.15 28.95A1.75 1.75 0 0 1 171.65 28.95L175.15 44.90Q175.30 45.50 174.70 45.50H165.10Q164.50 45.50 164.65 44.90Z" fill="#000"/>
<line x1="240.9" y1="36.75" x2="239.4" y2="966" stroke="#000" stroke-width="3.3" stroke-dasharray="4.3 13.47"/>
<path d="M239.15 15.75A1.75 1.75 0 0 1 242.65 15.75L246.15 31.50Q246.30 32.10 245.70 32.10H236.10Q235.50 32.10 235.65 31.50Z" fill="#000"/>
<line x1="381.2" y1="47.45" x2="379.6" y2="976" stroke="#000" stroke-width="3.3" stroke-dasharray="4.3 13.47"/>
<path d="M379.45 26.45A1.75 1.75 0 0 1 382.95 26.45L386.45 42.00Q386.60 42.60 386.00 42.60H376.40Q375.80 42.60 375.95 42.00Z" fill="#000"/>
<line x1="461.3" y1="37.65" x2="459.8" y2="966" stroke="#000" stroke-width="3.3" stroke-dasharray="4.3 13.47"/>
<path d="M459.55 15.55A1.75 1.75 0 0 1 463.05 15.55L466.55 31.50Q466.70 32.10 466.10 32.10H456.50Q455.90 32.10 456.05 31.50Z" fill="#000"/>
<line x1="495.5" y1="39.35" x2="495.0" y2="966" stroke="#000" stroke-width="3.3" stroke-dasharray="4.3 13.47"/>
<path d="M493.75 16.75A1.75 1.75 0 0 1 497.25 16.75L500.75 32.60Q500.90 33.20 500.30 33.20H490.70Q490.10 33.20 490.25 32.60Z" fill="#000"/>
<line x1="570.5" y1="40.35" x2="568.7" y2="968" stroke="#000" stroke-width="3.3" stroke-dasharray="4.3 13.47"/>
<path d="M568.75 19.25A1.75 1.75 0 0 1 572.25 19.25L575.75 34.60Q575.90 35.20 575.30 35.20H565.70Q565.10 35.20 565.25 34.60Z" fill="#000"/>
<line x1="601.3" y1="40.35" x2="600.5" y2="968" stroke="#000" stroke-width="3.3" stroke-dasharray="4.3 13.47"/>
<path d="M599.55 18.75A1.75 1.75 0 0 1 603.05 18.75L606.55 34.10Q606.70 34.70 606.10 34.70H596.50Q595.90 34.70 596.05 34.10Z" fill="#000"/>
<line x1="649.7" y1="40.35" x2="648.0" y2="968" stroke="#000" stroke-width="3.3" stroke-dasharray="4.3 13.47"/>
<path d="M647.95 18.75A1.75 1.75 0 0 1 651.45 18.75L654.95 34.10Q655.10 34.70 654.50 34.70H644.90Q644.30 34.70 644.45 34.10Z" fill="#000"/>
</svg></body></html>
